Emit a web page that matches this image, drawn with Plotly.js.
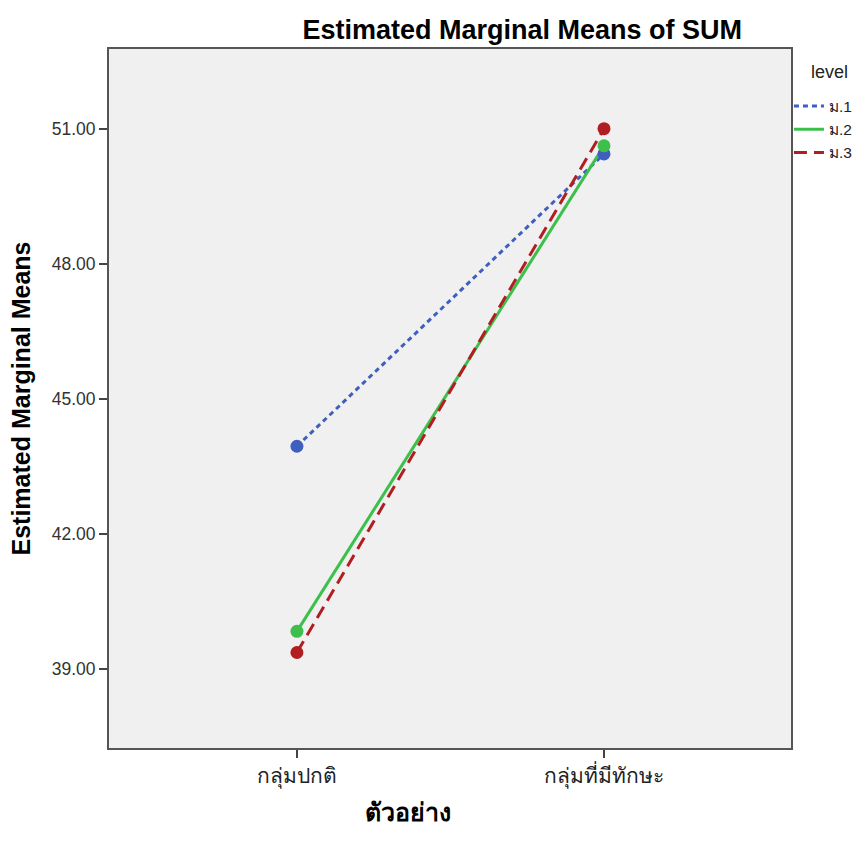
<!DOCTYPE html>
<html>
<head>
<meta charset="utf-8">
<script src="https://cdn.plot.ly/plotly-3.0.1.min.js"></script>
<style>body{margin:0;padding:0;background:#fff;}#chart{width:864px;height:851px;}</style>
</head>
<body>
<div id="chart"></div>
<script>
const groups = ["กลุ่มปกติ", "กลุ่มที่มีทักษะ"];
const levelNames = ["ม.1", "ม.2", "ม.3"];
const m1 = [43.95, 50.44];
const m2 = [39.84, 50.62];
const m3 = [39.37, 51.00];
const yTicks = [39, 42, 45, 48, 51];
const yTickText = ["39.00", "42.00", "45.00", "48.00", "51.00"];

const colors = ["#3f5fbf", "#3cbf4b", "#b01e22"];
const dashes = ["5px,4px", "solid", "13px,7px"];
const series = [m1, m2, m3];

const traces = [];
series.forEach((vals, i) => {
  traces.push({
    type: "scatter", mode: "lines", x: [0, 1], y: vals,
    name: levelNames[i],
    line: {color: colors[i], width: 3, dash: dashes[i]},
    showlegend: true, legendrank: i
  });
});
series.forEach((vals, i) => {
  traces.push({
    type: "scatter", mode: "markers", x: [0, 1], y: vals,
    name: levelNames[i],
    marker: {color: colors[i], size: 13},
    showlegend: false
  });
});

const F = "Liberation Sans, Arial, sans-serif";
const layout = {
  width: 864,
  height: 851,
  margin: {l: 109, r: 73, t: 49, b: 103, autoexpand: false},
  paper_bgcolor: "#ffffff",
  plot_bgcolor: "#f0f0f0",
  font: {family: F, size: 14, color: "#333"},
  title: {
    text: "Estimated Marginal Means of SUM",
    font: {family: F, size: 27, color: "#000", weight: "bold"},
    x: 0.606, xanchor: "center", xref: "paper",
    y: 0.965, yanchor: "middle", yref: "container"
  },
  xaxis: {
    range: [-0.612, 1.609],
    tickvals: [0, 1],
    ticktext: groups,
    ticks: "outside", ticklen: 8, tickwidth: 2, tickcolor: "#444",
    showgrid: false, zeroline: false,
    showline: true, linecolor: "#555", linewidth: 2, mirror: true,
    tickfont: {family: F, size: 21, color: "#222"}
  },
  yaxis: {
    range: [37.25, 52.77],
    tickvals: yTicks,
    ticktext: yTickText,
    ticks: "outside", ticklen: 8, tickwidth: 2, tickcolor: "#444",
    showgrid: false, zeroline: false,
    showline: true, linecolor: "#555", linewidth: 2, mirror: true,
    tickfont: {family: F, size: 17.5, color: "#333"},
    title: {
      text: "Estimated Marginal Means",
      font: {family: F, size: 25, color: "#000", weight: "bold"},
      standoff: 14
    }
  },
  legend: {
    x: 0.997, xanchor: "left", xref: "paper",
    y: 0.942, yanchor: "top",
    bgcolor: "rgba(0,0,0,0)",
    font: {family: F, size: 15.5, color: "#222"},
    tracegroupgap: 0,
    itemwidth: 30
  },
  annotations: [{
    text: "level",
    xref: "paper", yref: "paper",
    x: (829 - 109) / 682, y: 1 - (72 - 49) / 699,
    xanchor: "center", yanchor: "middle",
    showarrow: false,
    font: {family: F, size: 18, color: "#222"}
  }, {
    text: "<b>ตัวอย่าง</b>",
    xref: "paper", yref: "paper",
    x: (408 - 109) / 682, y: -(812 - 748) / 699,
    xanchor: "center", yanchor: "middle",
    showarrow: false,
    font: {family: F, size: 25, color: "#000"}
  }]
};

Plotly.newPlot("chart", traces, layout, {displayModeBar: false, staticPlot: true});
</script>
</body>
</html>
